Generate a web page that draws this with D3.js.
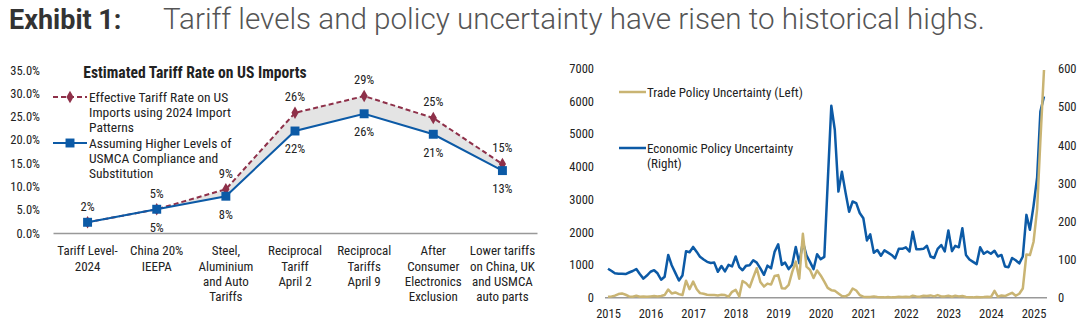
<!DOCTYPE html>
<html>
<head>
<meta charset="utf-8">
<script src="https://cdn.jsdelivr.net/npm/d3@7"></script>
<style>
  body { margin: 0; background: #fff; }
  svg text { font-family: "Roboto Condensed", "Liberation Sans Narrow", "DejaVu Sans Condensed", sans-serif; fill: #222; }
</style>
</head>
<body>
<div id="chart"></div>
<script>
const width = 1092;
const height = 331;

// Left panel: estimated tariff rate by policy step (%)
const categories = ["t2024", "china", "steel", "apr2", "apr9", "elec", "lower"];
const categoryLabels = [
  ["Tariff Level-", "2024"],
  ["China 20%", "IEEPA"],
  ["Steel,", "Aluminium", "and Auto", "Tariffs"],
  ["Reciprocal", "Tariff", "April 2"],
  ["Reciprocal", "Tariffs", "April 9"],
  ["After", "Consumer", "Electronics", "Exclusion"],
  ["Lower tariffs", "on China, UK", "and USMCA", "auto parts"]
];
const effectiveRate = [2.3, 5.1, 9.4, 25.8, 29.4, 24.7, 14.8];
const usmcaRate = [2.3, 5.1, 7.9, 21.9, 25.6, 21.2, 13.4];
const pctTicks = [0, 5, 10, 15, 20, 25, 30, 35];

// Right panel: monthly uncertainty indices, Jan 2015 - Apr 2025
const startMonth = new Date(2015, 0, 1);
const tradePolicy = [
  30, 40, 60, 110, 130, 90, 40, 30, 60, 30, 40, 30,
  40, 50, 40, 50, 80, 250, 130, 160, 110, 80, 520, 260,
  490, 260, 140, 120, 90, 80, 80, 70, 90, 80, 30, 180,
  240, 40, 510, 440, 320, 620, 900, 480, 340, 430, 400, 660,
  690, 290, 280, 390, 780, 1100, 580, 1950, 950, 850, 600, 830,
  680, 490, 300, 230, 210, 130, 55, 40, 100, 280, 220, 80,
  30, 20, 25, 40, 20, 15, 10, 20, 10, 15, 30, 20,
  30, 20, 60, 40, 30, 60, 50, 70, 40, 80, 40, 40,
  60, 30, 60, 40, 50, 20, 15, 10, 20, 15, 20, 30,
  20, 210, 30, 70, 50, 100, 150, 60, 120, 280, 1320, 1300,
  1700, 2700, 4800, 6950
];
const economicPolicy = [
  76, 70, 64, 63, 63, 62, 66, 70, 75, 62, 50, 58,
  68, 72, 64, 47, 55, 112, 85, 65, 45, 58, 122, 119,
  133, 120, 107, 100, 94, 91, 92, 68, 83, 69, 86, 82,
  108, 80, 72, 84, 85, 98, 92, 77, 60, 84, 77, 120,
  140, 86, 92, 75, 86, 133, 90, 146, 111, 94, 75, 114,
  101, 107, 300, 503, 440, 278, 330, 276, 225, 252, 248, 222,
  208, 150, 166, 118, 125, 110, 124, 118, 112, 103, 128, 128,
  132, 121, 173, 127, 127, 128, 136, 108, 104, 128, 138, 121,
  176, 122, 136, 132, 182, 112, 100, 94, 88, 132, 115, 121,
  115, 123, 108, 112, 82, 80, 104, 98, 90, 108, 217, 178,
  240, 315, 488, 527
];
const leftTicks = [0, 1000, 2000, 3000, 4000, 5000, 6000, 7000];
const rightTicks = [0, 100, 200, 300, 400, 500, 600];
const yearTicks = d3.range(2015, 2026);

const red = "#8e3049";
const blue = "#0c5aa6";
const gold = "#c9b473";

const svg = d3.select("#chart")
  .append("svg")
  .attr("width", width)
  .attr("height", height)
  .attr("viewBox", `0 0 ${width} ${height}`);

// Headline
svg.append("text")
  .attr("x", 9).attr("y", 29)
  .attr("font-size", 27).attr("font-weight", 700)
  .style("font-family", "Roboto, sans-serif")
  .style("fill", "#333")
  .text("Exhibit 1:");
svg.append("text")
  .attr("x", 163).attr("y", 29)
  .attr("font-size", 29.6).attr("font-weight", 300)
  .style("font-family", "Roboto, sans-serif")
  .style("fill", "#555")
  .text("Tariff levels and policy uncertainty have risen to historical highs.");

// ---- Left panel ----
const xL = d3.scaleBand().domain(categories).range([53, 537]);
const yL = d3.scaleLinear().domain([0, 35]).range([233, 70]);
const cx = i => xL(categories[i]) + xL.bandwidth() / 2;

const left = svg.append("g");

left.append("g")
  .attr("transform", "translate(53,0)")
  .call(d3.axisLeft(yL).tickValues(pctTicks).tickSize(0).tickPadding(13)
    .tickFormat(d => d3.format(".1f")(d) + "%"))
  .call(g => g.select(".domain").remove())
  .call(g => g.selectAll("text").attr("font-size", 12.5));

const xAxisL = left.append("g")
  .attr("transform", `translate(0,${yL(0)})`)
  .call(d3.axisBottom(xL).tickSize(0).tickPadding(13).tickFormat(""));
xAxisL.select(".domain").attr("stroke", "#999").attr("stroke-width", 1.5);
xAxisL.selectAll(".tick text")
  .attr("font-size", 13)
  .each(function(d, i) {
    const t = d3.select(this);
    categoryLabels[i].forEach((line, j) => {
      t.append("tspan").attr("x", 0).attr("dy", j === 0 ? "0.71em" : "1.18em").text(line);
    });
  });

// band between the two estimates
left.append("path")
  .datum(categories)
  .attr("fill", "#e4e4e4")
  .attr("d", d3.area()
    .x((d, i) => cx(i))
    .y0((d, i) => yL(usmcaRate[i]))
    .y1((d, i) => yL(effectiveRate[i])));

const lineL = vals => d3.line().x((d, i) => cx(i)).y((d, i) => yL(vals[i]))(categories);

left.append("path")
  .attr("d", lineL(effectiveRate))
  .attr("fill", "none").attr("stroke", red)
  .attr("stroke-width", 2).attr("stroke-dasharray", "5,3");
left.append("path")
  .attr("d", lineL(usmcaRate))
  .attr("fill", "none").attr("stroke", blue).attr("stroke-width", 2);

const diamond = d3.symbol(d3.symbolDiamond, 45);
const square = d3.symbol(d3.symbolSquare, 80);

left.selectAll(".eff-pt").data(effectiveRate).join("path")
  .attr("transform", (d, i) => `translate(${cx(i)},${yL(d)})`)
  .attr("d", diamond).attr("fill", red);
left.selectAll(".usm-pt").data(usmcaRate).join("path")
  .attr("transform", (d, i) => `translate(${cx(i)},${yL(d)})`)
  .attr("d", square).attr("fill", blue);

const pct = d => d3.format(".0f")(d) + "%";
left.selectAll(".eff-lbl").data(effectiveRate).join("text")
  .attr("x", (d, i) => cx(i)).attr("y", d => yL(d) - 16)
  .attr("dy", "0.35em").attr("text-anchor", "middle")
  .attr("font-size", 12.5).text(pct);
left.selectAll(".usm-lbl").data(usmcaRate.slice(1)).join("text")
  .attr("x", (d, i) => cx(i + 1)).attr("y", d => yL(d) + 18)
  .attr("dy", "0.35em").attr("text-anchor", "middle")
  .attr("font-size", 12.5).text(pct);

// legend
left.append("text")
  .attr("x", 195).attr("y", 73).attr("dy", "0.35em")
  .attr("text-anchor", "middle").attr("font-size", 15.6).attr("font-weight", 700)
  .text("Estimated Tariff Rate on US Imports");

const legendL = [
  { y: 97, color: red, dash: "5,3", sym: diamond, lines: ["Effective Tariff Rate on US", "Imports using 2024 Import", "Patterns"] },
  { y: 143, color: blue, dash: null, sym: square, lines: ["Assuming Higher Levels of", "USMCA Compliance and", "Substitution"] }
];
legendL.forEach(item => {
  left.append("line")
    .attr("x1", 53).attr("x2", 87).attr("y1", item.y).attr("y2", item.y)
    .attr("stroke", item.color).attr("stroke-width", 2)
    .attr("stroke-dasharray", item.dash);
  left.append("path")
    .attr("transform", `translate(70,${item.y})`)
    .attr("d", item.sym).attr("fill", item.color);
  item.lines.forEach((line, j) => {
    left.append("text")
      .attr("x", 89).attr("y", item.y + j * 15.3).attr("dy", "0.35em")
      .attr("font-size", 13.5).text(line);
  });
});

// ---- Right panel ----
const months = tradePolicy.map((d, i) => d3.timeMonth.offset(startMonth, i));
const xR = d3.scaleTime().domain([months[0], months[months.length - 1]]).range([608, 1044]);
const yTpu = d3.scaleLinear().domain([0, 7000]).range([297.7, 68.3]);
const yEpu = d3.scaleLinear().domain([0, 600]).range([297.7, 68.7]);

const right = svg.append("g");

right.append("g")
  .attr("transform", "translate(605,0)")
  .call(d3.axisLeft(yTpu).tickValues(leftTicks).tickSize(0).tickPadding(11).tickFormat(d3.format("d")))
  .call(g => g.select(".domain").remove())
  .call(g => g.selectAll("text").attr("font-size", 12.5));

right.append("g")
  .attr("transform", "translate(1047,0)")
  .call(d3.axisRight(yEpu).tickValues(rightTicks).tickSize(0).tickPadding(11).tickFormat(d3.format("d")))
  .call(g => g.select(".domain").remove())
  .call(g => g.selectAll("text").attr("font-size", 12.5));

right.append("g")
  .attr("transform", `translate(0,${yTpu(0)})`)
  .call(d3.axisBottom(xR).tickValues(yearTicks.map(y => new Date(y, 0, 1)))
    .tickSize(0).tickPadding(11).tickFormat(d3.timeFormat("%Y")))
  .call(g => g.select(".domain").remove())
  .call(g => g.selectAll("text").attr("font-size", 12.5));

right.append("line")
  .attr("x1", 605).attr("x2", 1047)
  .attr("y1", yTpu(0)).attr("y2", yTpu(0))
  .attr("stroke", "#999").attr("stroke-width", 1.5);

right.append("path")
  .attr("d", d3.line().x((d, i) => xR(months[i])).y(d => yEpu(d))(economicPolicy))
  .attr("fill", "none").attr("stroke", blue).attr("stroke-width", 2.5)
  .attr("stroke-linejoin", "round");
right.append("path")
  .attr("d", d3.line().x((d, i) => xR(months[i])).y(d => yTpu(d))(tradePolicy))
  .attr("fill", "none").attr("stroke", gold).attr("stroke-width", 2.5)
  .attr("stroke-linejoin", "round");

const legendR = [
  { y: 92, color: gold, lines: ["Trade Policy Uncertainty (Left)"] },
  { y: 148, color: blue, lines: ["Economic Policy Uncertainty", "(Right)"] }
];
legendR.forEach(item => {
  right.append("line")
    .attr("x1", 619).attr("x2", 646).attr("y1", item.y).attr("y2", item.y)
    .attr("stroke", item.color).attr("stroke-width", 2.5);
  item.lines.forEach((line, j) => {
    right.append("text")
      .attr("x", 647).attr("y", item.y + j * 15).attr("dy", "0.35em")
      .attr("font-size", 13).text(line);
  });
});
</script>
</body>
</html>
